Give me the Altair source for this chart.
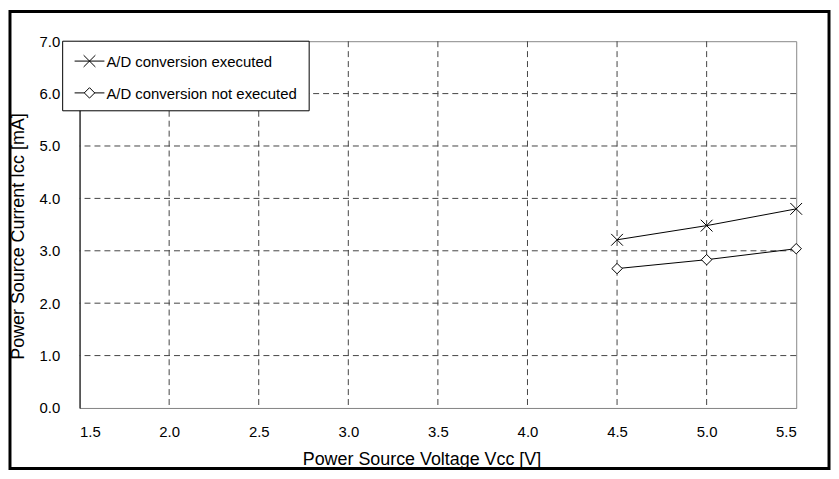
import altair as alt
import pandas as pd

# ---- data ----
voltage = [4.5, 5.0, 5.5]
current_executed = [3.21, 3.48, 3.80]
current_not_executed = [2.66, 2.83, 3.04]
series_names = ["A/D conversion executed", "A/D conversion not executed"]
x_ticks = [1.5, 2.0, 2.5, 3.0, 3.5, 4.0, 4.5, 5.0, 5.5]
y_ticks = [0.0, 1.0, 2.0, 3.0, 4.0, 5.0, 6.0, 7.0]
grid_x = [2.0, 2.5, 3.0, 3.5, 4.0, 4.5, 5.0]
grid_y = [1.0, 2.0, 3.0, 4.0, 5.0, 6.0]

rows = []
for v, c in zip(voltage, current_executed):
    rows.append({"v": v, "i": c, "series": series_names[0]})
for v, c in zip(voltage, current_not_executed):
    rows.append({"v": v, "i": c, "series": series_names[1]})
df = pd.DataFrame(rows)

FONT = "Liberation Sans"
marker_paths = ["M-1,-1L1,1M-1,1L1,-1", "M0,-1L1,0L0,1L-1,0Z"]
marker_sizes = [140, 110]

X_TITLE = "Power Source Voltage Vcc [V]"
Y_TITLE = "Power Source Current Icc [mA]"
x_scale = alt.Scale(domain=[1.5, 5.5], nice=False, zero=False)
y_scale = alt.Scale(domain=[0, 7], nice=False)
x_axis = alt.Axis(
    values=x_ticks, format=".1f", title=X_TITLE,
    domainColor="#888888", labelPadding=17, titlePadding=11, titleX=344,
)
y_axis = alt.Axis(
    values=y_ticks, format=".1f", title=Y_TITLE,
    domainColor="black", labelPadding=20, titlePadding=12, titleY=196,
)


def xe(field):
    return alt.X(field, scale=x_scale, axis=x_axis, title=X_TITLE)


def ye(field):
    return alt.Y(field, scale=y_scale, axis=y_axis, title=Y_TITLE)


grid_style = dict(color="#444444", strokeWidth=1, strokeDash=[6, 4])

vgrid = alt.Chart(alt.Data(values=[{"gx": g} for g in grid_x])).mark_rule(
    **grid_style
).encode(x=xe("gx:Q"))

hgrid = alt.Chart(alt.Data(values=[{"gy": g} for g in grid_y])).mark_rule(
    **grid_style
).encode(y=ye("gy:Q"))

base = alt.Chart(df)

lines = base.mark_line(color="black", strokeWidth=1).encode(
    x=xe("v:Q"), y=ye("i:Q"), detail="series:N"
)

points = base.mark_point(
    filled=True, fill="white", stroke="black", strokeWidth=1, opacity=1
).encode(
    x=xe("v:Q"),
    y=ye("i:Q"),
    shape=alt.Shape(
        "series:N",
        scale=alt.Scale(domain=series_names, range=marker_paths),
        legend=None,
    ),
    size=alt.Size(
        "series:N",
        scale=alt.Scale(domain=series_names, range=marker_sizes),
        legend=None,
    ),
)

# ---- legend box (drawn by hand, top-left inside the plot) ----
one = alt.Data(values=[{}])
legend_box = alt.Chart(one).mark_rect(
    fill="white", stroke="black", strokeWidth=1
).encode(x=alt.value(-17), x2=alt.value(231), y=alt.value(0), y2=alt.value(70))

legend_parts = [legend_box]
row_y = [20, 52]
for k, name in enumerate(series_names):
    ry = row_y[k]
    legend_parts.append(
        alt.Chart(one).mark_rule(color="black", strokeWidth=1).encode(
            x=alt.value(-5), x2=alt.value(25), y=alt.value(ry)
        )
    )
    legend_parts.append(
        alt.Chart(one).mark_point(
            shape=marker_paths[k], size=marker_sizes[k], filled=True,
            fill="white", stroke="black", strokeWidth=1, opacity=1,
        ).encode(x=alt.value(10), y=alt.value(ry))
    )
    legend_parts.append(
        alt.Chart(one).mark_text(
            text=name, align="left", baseline="middle", font=FONT,
            fontSize=15, color="black",
        ).encode(x=alt.value(27), y=alt.value(ry + 1))
    )

frame = alt.Chart(one).mark_rect(
    filled=False, stroke="black", strokeWidth=3
).encode(
    x=alt.value(-70), x2=alt.value(754), y=alt.value(-30), y2=alt.value(430)
)

chart = (
    alt.layer(vgrid, hgrid, lines, points, *legend_parts, frame)
    .properties(
        width=721,
        height=369,
        autosize=alt.AutoSizeParams(type="none"),
        padding={"left": 72, "top": 32, "right": 35, "bottom": 62},
        background="white",
    )
    .configure_view(stroke="#888888", strokeWidth=1)
    .configure_axis(
        grid=False,
        ticks=False,
        labelFont=FONT,
        labelFontSize=15,
        labelColor="black",
        titleFont=FONT,
        titleFontSize=18,
        titleFontWeight="normal",
        titleColor="black",
        domainWidth=1,
    )
)

chart.save("out.html", embed_options={"renderer": "svg", "actions": False})
